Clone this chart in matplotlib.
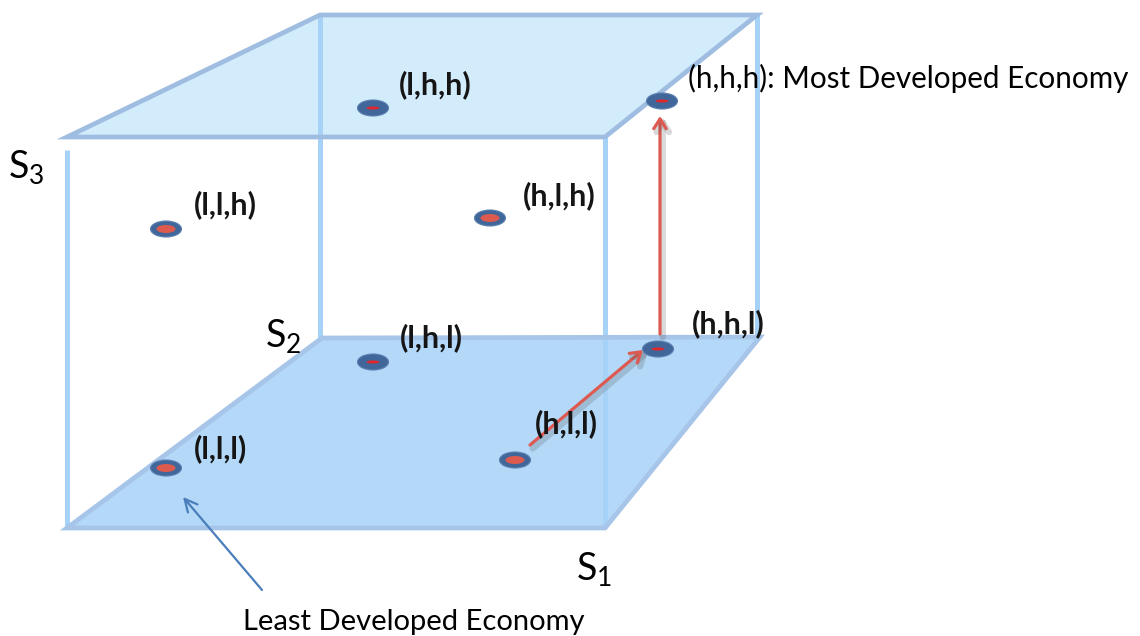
import matplotlib.pyplot as plt
import matplotlib.patheffects as pe
from matplotlib.patches import Polygon, Ellipse

plt.rcParams['font.family'] = ['Lato', 'DejaVu Sans']

# Cube faces (picture coordinates, y grows downward)
top_x = [67, 605, 757, 320]
top_y = [137, 137, 15, 15]
bottom_x = [67, 605, 760, 322]
bottom_y = [528, 528, 337, 338]
# vertical edges: x, y top, y bottom
edge_x = [67, 320, 605, 757]
edge_top = [150, 15, 137, 15]
edge_bottom = [528, 338, 528, 337]

# States of the economy (s1, s2, s3)
states = ['(l,h,h)', '(h,h,h)', '(l,l,h)', '(h,l,h)',
          '(l,h,l)', '(h,h,l)', '(h,l,l)', '(l,l,l)']
state_x = [373, 662, 166, 490, 373, 658, 515, 166]
state_y = [108, 101, 229, 218, 362, 349, 460, 468]
state_note = ['', ': Most Developed Economy', '', '', '', '', '', '']

# Development path (h,l,l) -> (h,h,l) -> (h,h,h)
path_x = [530, 643, 660, 660]
path_y = [445, 350, 334, 116]

axis_names = ['S$_\\mathregular{1}$', 'S$_\\mathregular{2}$', 'S$_\\mathregular{3}$']

# styling
label_dx = [26, 26, 28, 33, 27, 34, 20, 28]
label_dy = [-23, -23, -24, -22, -24, -25, -36, -19]
thin_core = [True, True, False, False, True, True, False, False]

fig = plt.figure(figsize=(11.4, 6.36), dpi=100)
ax = fig.add_axes([0, 0, 1, 1])
ax.set_xlim(0, 1140)
ax.set_ylim(636, 0)
ax.axis('off')

# faces
ax.add_patch(Polygon(list(zip(top_x, top_y)), closed=True, facecolor='#d3ecfc',
                     edgecolor='none', zorder=1))
ax.add_patch(Polygon(list(zip(bottom_x, bottom_y)), closed=True, facecolor='#b3d8f8',
                     edgecolor='none', zorder=1))
for x, y0, y1 in zip(edge_x, edge_top, edge_bottom):
    ax.plot([x, x], [y0, y1], color='#a7d2f8', lw=3.6, solid_capstyle='butt', zorder=2)
ax.add_patch(Polygon(list(zip(top_x, top_y)), closed=True, facecolor='none',
                     edgecolor='#9fbde1', lw=3.4, zorder=3))
ax.add_patch(Polygon(list(zip(bottom_x, bottom_y)), closed=True, facecolor='none',
                     edgecolor='#a6c5e8', lw=3.4, zorder=3))

# red path with soft shadow
shadow = [pe.SimpleLineShadow(offset=(2, -2.5), shadow_color='#555555', alpha=0.22,
                              linewidth=4.5),
          pe.Normal()]
for i in (0, 2):
    ax.annotate('', xy=(path_x[i + 1], path_y[i + 1]), xytext=(path_x[i], path_y[i]),
                arrowprops=dict(arrowstyle='->,head_length=0.7,head_width=0.45',
                                color='#dc5a52', lw=2.3, shrinkA=0, shrinkB=0,
                                path_effects=shadow),
                zorder=4)

# state markers
for i, (x, y) in enumerate(zip(state_x, state_y)):
    ax.add_patch(Ellipse((x, y), 31, 16, facecolor='#41669a', edgecolor='#5a7fb0',
                         lw=0.8, zorder=5))
    if thin_core[i]:
        ax.add_patch(Ellipse((x, y), 13, 3, facecolor='#e0262a', edgecolor='none', zorder=6))
    else:
        ax.add_patch(Ellipse((x, y), 19, 8, facecolor='#dc5a4e', edgecolor='none', zorder=6))
    if state_note[i]:
        ax.text(x + label_dx[i], y + label_dy[i], states[i] + state_note[i],
                fontsize=21.3, ha='left', va='center', color='black', zorder=7)
    else:
        ax.text(x + label_dx[i], y + label_dy[i], states[i], fontsize=22,
                fontweight='bold', ha='left', va='center', color='#151515', zorder=7)

# axis names
ax.text(8, 168, axis_names[2], fontsize=27, ha='left', va='center')
ax.text(265, 337, axis_names[1], fontsize=27, ha='left', va='center')
ax.text(576, 570, axis_names[0], fontsize=27, ha='left', va='center')

# least developed callout
ax.annotate('', xy=(183, 497), xytext=(262, 590),
            arrowprops=dict(arrowstyle='->,head_length=0.9,head_width=0.45',
                            color='#4a7ebb', lw=1.6, shrinkA=0, shrinkB=0), zorder=4)
ax.text(414, 622, 'Least Developed Economy', fontsize=21, ha='center', va='center')

fig.savefig('out.png', dpi=100)
